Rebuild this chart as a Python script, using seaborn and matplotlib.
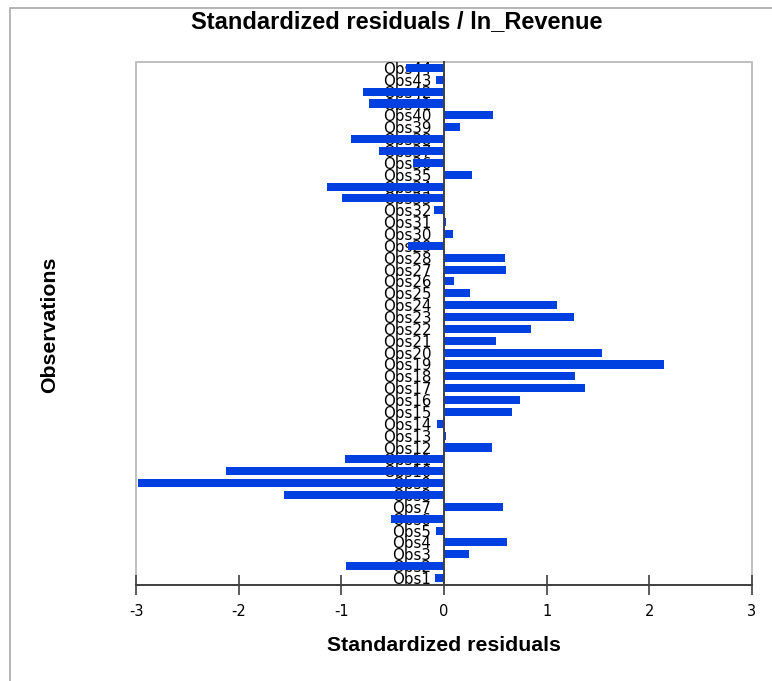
import pandas as pd
import matplotlib
matplotlib.use('Agg')
import matplotlib.pyplot as plt
import matplotlib.patches as mpatches
import seaborn as sns

# Residuals, Obs1 .. Obs44
obs_labels = ['Obs%d' % i for i in range(1, 45)]
residuals = [-0.09, -0.95, 0.24, 0.61, -0.08, -0.52, 0.57, -1.56, -2.98, -2.12,
             -0.96, 0.47, 0.02, -0.07, 0.66, 0.74, 1.37, 1.28, 2.14, 1.54,
             0.51, 0.85, 1.27, 1.10, 0.25, 0.10, 0.60, 0.59, -0.35, 0.09,
             0.02, -0.10, -0.99, -1.14, 0.27, -0.30, -0.63, -0.91, 0.16, 0.48,
             -0.73, -0.79, -0.08, -0.37]
x_ticks = [-3, -2, -1, 0, 1, 2, 3]

bar_color = '#0040e0'


def plot_residuals(out_path):
    df = pd.DataFrame({'obs': obs_labels, 'resid': residuals})

    fig = plt.figure(figsize=(7.72, 6.81), dpi=100)
    ax = fig.add_axes([136 / 772, 1 - 585 / 681, 616 / 772, 523 / 681])

    sns.barplot(data=df, x='resid', y='obs', order=obs_labels[::-1], orient='h',
                color=bar_color, saturation=1, width=0.68, ax=ax, zorder=1)

    ax.set_axisbelow(True)
    ax.set_xlim(-3, 3)
    ax.set_ylim(43.59, -0.5)
    ax.set_xticks(x_ticks)
    ax.set_xticklabels([str(t) for t in x_ticks], fontsize=10.5)

    # y axis sits on the zero line
    ax.spines['left'].set_position(('data', 0))
    ax.spines['left'].set_color('#404040')
    ax.spines['left'].set_linewidth(1.4)
    ax.spines['bottom'].set_color('#404040')
    ax.spines['bottom'].set_linewidth(1.4)
    ax.spines['top'].set_visible(False)
    ax.spines['right'].set_visible(False)
    ax.tick_params(axis='y', length=0, pad=9, labelsize=10.8, labelcolor='black')
    ax.tick_params(axis='x', direction='inout', length=14, width=1.2,
                   color='#404040', pad=7)

    # light frame round the plot area
    ax.add_patch(mpatches.Rectangle((0, 0), 1, 1, transform=ax.transAxes, fill=False,
                                    edgecolor='#b4b4b4', linewidth=1.2, zorder=0.4,
                                    clip_on=False))

    ax.set_xlabel('Standardized residuals', fontsize=15.3, fontweight='bold',
                  family='Liberation Sans', labelpad=12)
    ax.set_ylabel('')
    fig.text(50 / 772, 1 - 325 / 681, 'Observations', rotation=90, ha='center',
             va='center', fontsize=15.3, fontweight='bold', family='Liberation Sans')
    fig.text(397 / 772, 1 - 22 / 681, 'Standardized residuals / ln_Revenue',
             ha='center', va='center', fontsize=17, fontweight='bold',
             family='Liberation Sans')

    # figure frame, cut off at right and bottom like the original
    fig.patches.append(mpatches.Rectangle((10 / 772, -0.1), 1.1, 1.1 - 8 / 681,
                                          transform=fig.transFigure, fill=False,
                                          edgecolor='#a8a8a8', linewidth=1.2))

    fig.savefig(out_path, dpi=100)
    plt.close(fig)


if __name__ == '__main__':
    plot_residuals('out.png')
